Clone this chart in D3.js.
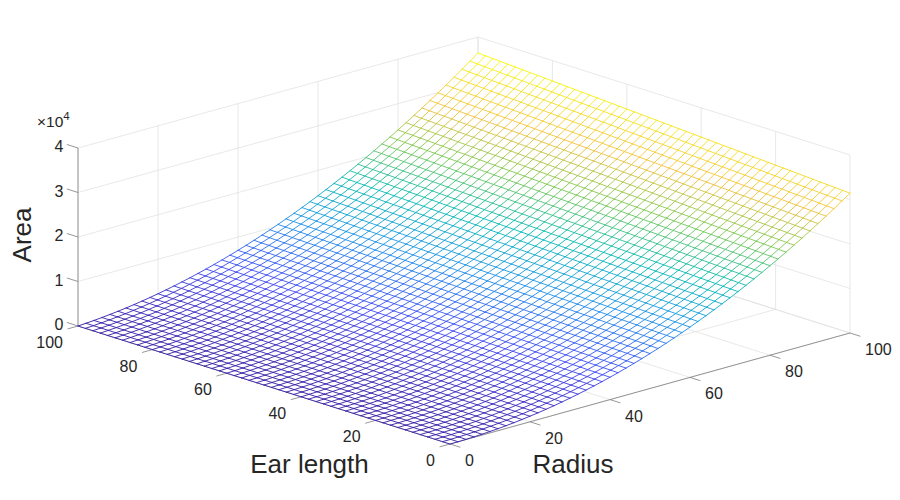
<!DOCTYPE html>
<html>
<head>
<meta charset="utf-8">
<script src="https://cdn.jsdelivr.net/npm/d3@7"></script>
<style>
  body { margin: 0; background: #fff; }
  text { font-family: "Liberation Sans", Arial, Helvetica, sans-serif; fill: #262626; }
</style>
</head>
<body>
<div id="chart-area"></div>
<script>
// mesh sample points (0:2:100 on both axes)
var radius = [0,2,4,6,8,10,12,14,16,18,20,22,24,26,28,30,32,34,36,38,40,42,44,46,48,50,
              52,54,56,58,60,62,64,66,68,70,72,74,76,78,80,82,84,86,88,90,92,94,96,98,100];
var earLength = [0,2,4,6,8,10,12,14,16,18,20,22,24,26,28,30,32,34,36,38,40,42,44,46,48,50,
                 52,54,56,58,60,62,64,66,68,70,72,74,76,78,80,82,84,86,88,90,92,94,96,98,100];

// area read along the front edge (ear length = 0), one per radius
var areaAtEar0 = [0,13,50,113,201,314,452,616,804,1018,1257,1521,1810,2124,2463,2827,3217,
                  3632,4072,4536,5027,5542,6082,6648,7238,7854,8495,9161,9852,10568,11310,
                  12076,12868,13685,14527,15394,16286,17203,18146,19113,20106,21124,22167,
                  23235,24328,25447,26590,27759,28953,30172,31416];
// area read along the back edge (ear length = 100), one per radius
var areaAtEar100 = [0,113,250,413,601,814,1052,1316,1604,1918,2257,2621,3010,3424,3863,4327,
                    4817,5332,5872,6436,7027,7642,8282,8948,9638,10354,11095,11861,12652,13468,
                    14310,15176,16068,16985,17927,18894,19886,20903,21946,23013,24106,25224,
                    26367,27535,28728,29947,31190,32459,33753,35072,36416];

var radiusTicks = [0, 20, 40, 60, 80, 100];
var earTicks = [0, 20, 40, 60, 80, 100];
var areaTicks = [0, 10000, 20000, 30000, 40000];
var areaTickLabels = ["0", "1", "2", "3", "4"];

// parula colormap stops
var parulaStops = [0, 0.143, 0.302, 0.46, 0.619, 0.778, 0.937, 1];
var parulaColors = ["#3e26a8", "#4852f4", "#2796eb", "#12beb9", "#81cc59", "#f5c445", "#f5e924", "#f9fb15"];

var width = 900, height = 500;

var svg = d3.select("#chart-area")
    .append("svg")
        .attr("width", width)
        .attr("height", height);

// orthographic view: each data axis maps to a screen offset
var origin = { x: 450, y: 444 };
var rToX = d3.scaleLinear().domain([0, 100]).range([0, 400]);
var rToY = d3.scaleLinear().domain([0, 100]).range([0, -111]);
var eToX = d3.scaleLinear().domain([0, 100]).range([0, -372]);
var eToY = d3.scaleLinear().domain([0, 100]).range([0, -118]);
var zToY = d3.scaleLinear().domain([0, 40000]).range([0, -178]);

function proj(r, e, z) {
    return [origin.x + rToX(r) + eToX(e), origin.y + rToY(r) + eToY(e) + zToY(z)];
}

var zMax = d3.max(areaAtEar100);
var color = d3.scaleLinear()
    .domain(parulaStops.map(function(s) { return s * zMax; }))
    .range(parulaColors)
    .interpolate(d3.interpolateRgb);

// lines of constant radius are straight along ear length
var alongEar = radius.map(function(r, i) {
    return d3.scaleLinear().domain([0, 100]).range([areaAtEar0[i], areaAtEar100[i]]);
});
var Z = radius.map(function(r, i) {
    return earLength.map(function(e) { return alongEar[i](e); });
});

function seg(g, a, b) {
    var p = proj(a[0], a[1], a[2]), q = proj(b[0], b[1], b[2]);
    return g.append("line")
        .attr("x1", p[0]).attr("y1", p[1])
        .attr("x2", q[0]).attr("y2", q[1]);
}

// ---- grid on back walls and floor
var grid = svg.append("g")
    .attr("stroke", "#e2e2e2")
    .attr("stroke-width", 0.8);

radiusTicks.forEach(function(r) {
    seg(grid, [r, 100, 0], [r, 100, 40000]);   // wall at ear length = 100
    seg(grid, [r, 0, 0], [r, 100, 0]);          // floor
});
earTicks.forEach(function(e) {
    seg(grid, [100, e, 0], [100, e, 40000]);   // wall at radius = 100
    seg(grid, [0, e, 0], [100, e, 0]);          // floor
});
areaTicks.forEach(function(z) {
    seg(grid, [0, 100, z], [100, 100, z]);
    seg(grid, [100, 0, z], [100, 100, z]);
});

// ---- axes
var axes = svg.append("g")
    .attr("stroke", "#7d7d7d")
    .attr("stroke-width", 0.8);

seg(axes, [0, 0, 0], [100, 0, 0]);          // Radius
seg(axes, [0, 0, 0], [0, 100, 0]);          // Ear length
seg(axes, [0, 100, 0], [0, 100, 40000]);    // Area

radiusTicks.forEach(function(r) { seg(axes, [r, 0, 0], [r, -2.8, 0]); });
earTicks.forEach(function(e) { seg(axes, [0, e, 0], [-2.6, e, 0]); });
areaTicks.forEach(function(z) { seg(axes, [0, 100, z], [0, 103, z]); });

// ---- surface (white face hides what is behind it)
var outline = [];
earLength.forEach(function(e, j) { outline.push(proj(0, e, Z[0][j])); });
radius.forEach(function(r, i) { outline.push(proj(r, 100, Z[i][earLength.length - 1])); });
earLength.slice().reverse().forEach(function(e, k) {
    var j = earLength.length - 1 - k;
    outline.push(proj(100, e, Z[radius.length - 1][j]));
});
radius.slice().reverse().forEach(function(r, k) {
    var i = radius.length - 1 - k;
    outline.push(proj(r, 0, Z[i][0]));
});

svg.append("path")
    .attr("d", d3.line()(outline) + "Z")
    .attr("fill", "#fff")
    .attr("stroke", "none");

var mesh = svg.append("g")
    .attr("stroke-width", 0.95)
    .attr("stroke-linecap", "round");

radius.forEach(function(r, i) {
    earLength.forEach(function(e, j) {
        if (j < earLength.length - 1) {
            seg(mesh, [r, e, Z[i][j]], [r, earLength[j + 1], Z[i][j + 1]])
                .attr("stroke", color((Z[i][j] + Z[i][j + 1]) / 2));
        }
        if (i < radius.length - 1) {
            seg(mesh, [r, e, Z[i][j]], [radius[i + 1], e, Z[i + 1][j]])
                .attr("stroke", color((Z[i][j] + Z[i + 1][j]) / 2));
        }
    });
});

// ---- tick labels
var labels = svg.append("g").attr("font-size", "16px");

radiusTicks.forEach(function(r) {
    var p = proj(r, 0, 0);
    labels.append("text").attr("x", p[0] + 15).attr("y", p[1] + 22)
        .attr("text-anchor", "start").text(r);
});
earTicks.forEach(function(e) {
    var p = proj(0, e, 0);
    labels.append("text").attr("x", p[0] - 15).attr("y", p[1] + 22)
        .attr("text-anchor", "end").text(e);
});
areaTicks.forEach(function(z, k) {
    var p = proj(0, 100, z);
    labels.append("text").attr("x", p[0] - 14.5).attr("y", p[1] + 4)
        .attr("text-anchor", "end").text(areaTickLabels[k]);
});

var expo = svg.append("text").attr("x", 37).attr("y", 127).attr("font-size", "15.5px");
expo.append("tspan").text("\u00d710");
expo.append("tspan").attr("dy", -7).attr("font-size", "11.5px").text("4");

// ---- axis titles
svg.append("text").attr("x", 573).attr("y", 473)
    .attr("text-anchor", "middle").attr("font-size", "26px").text("Radius");
svg.append("text").attr("x", 309.5).attr("y", 473)
    .attr("text-anchor", "middle").attr("font-size", "26px").text("Ear length");
svg.append("text")
    .attr("transform", "translate(30.5,235) rotate(-90)")
    .attr("text-anchor", "middle").attr("font-size", "26px").text("Area");
</script>
</body>
</html>
